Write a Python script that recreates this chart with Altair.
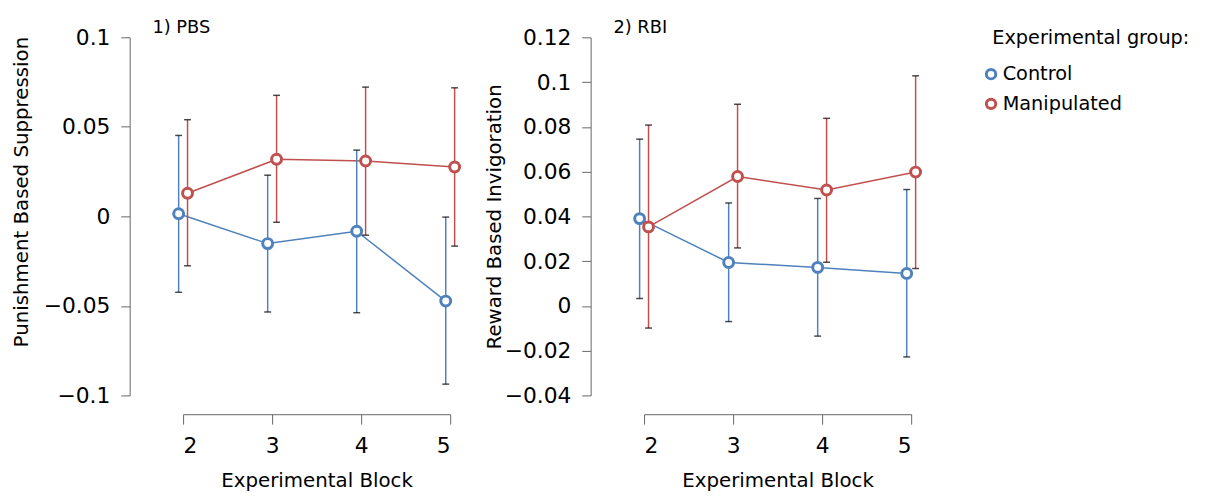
import altair as alt
import pandas as pd

blocks = [2, 3, 4, 5]
groups = ["Control", "Manipulated"]

pbs_control_mean = [0.0015, -0.0152, -0.0083, -0.0473]
pbs_control_lo = [-0.0424, -0.0534, -0.0538, -0.0937]
pbs_control_hi = [0.0452, 0.0230, 0.0370, -0.0004]
pbs_manip_mean = [0.0129, 0.0319, 0.0309, 0.0276]
pbs_manip_lo = [-0.0276, -0.0033, -0.0105, -0.0166]
pbs_manip_hi = [0.0540, 0.0676, 0.0722, 0.0718]

rbi_control_mean = [0.0390, 0.0194, 0.0172, 0.0145]
rbi_control_lo = [0.0033, -0.0070, -0.0135, -0.0228]
rbi_control_hi = [0.0745, 0.0460, 0.0480, 0.0520]
rbi_manip_mean = [0.0353, 0.0578, 0.0518, 0.0598]
rbi_manip_lo = [-0.0099, 0.0259, 0.0195, 0.0167]
rbi_manip_hi = [0.0808, 0.0901, 0.0838, 0.1028]

pbs_ticks = [-0.1, -0.05, 0, 0.05, 0.1]
rbi_ticks = [-0.04, -0.02, 0, 0.02, 0.04, 0.06, 0.08, 0.1, 0.12]

FONT = "DejaVu Sans"
BLUE = "#4f81bd"
RED = "#c0504d"

LEGEND = alt.Legend(
    title="Experimental group:", orient="right", offset=74, padding=-8,
    titleFontSize=19.5, labelFontSize=19.5, titleFont=FONT, labelFont=FONT,
    titleFontWeight="normal", titlePadding=16, rowPadding=8, titleLimit=400,
    labelLimit=300, symbolType="circle", symbolSize=90, symbolStrokeWidth=3,
    symbolFillColor="white", symbolOffset=-11, labelOffset=2,
)


def frame(cm, clo, chi, mm, mlo, mhi):
    rows = []
    for g, m, lo, hi in [("Control", cm, clo, chi), ("Manipulated", mm, mlo, mhi)]:
        for b, a, l, h in zip(blocks, m, lo, hi):
            rows.append({"block": b, "group": g, "mean": a, "lo": l, "hi": h})
    return pd.DataFrame(rows)


def panel(df, title, ytitle, ydomain, yticks, titleY, titlePad):
    base = alt.Chart(df).transform_calculate(
        xd="datum.block + (datum.group == 'Control' ? -0.05 : 0.05)"
    )
    xenc = alt.X(
        "xd:Q",
        scale=alt.Scale(domain=[2, 5], range=[54, 324], nice=False, zero=False),
        axis=alt.Axis(
            title="Experimental Block", values=blocks, format="d", offset=19,
            tickSize=10, labelPadding=12, titlePadding=14, grid=False,
        ),
    )
    yenc = alt.Y(
        "mean:Q",
        scale=alt.Scale(domain=ydomain, nice=False, zero=False),
        axis=alt.Axis(
            title=ytitle, values=yticks, format=".3~g", tickSize=9,
            labelPadding=11, titlePadding=titlePad, grid=False,
            **({"titleY": titleY} if titleY is not None else {}),
        ),
    )
    color = alt.Color(
        "group:N",
        scale=alt.Scale(domain=groups, range=[BLUE, RED]),
        legend=LEGEND,
    )
    line = base.mark_line(strokeWidth=1.5).encode(x=xenc, y=yenc, color=color)
    bars = base.mark_rule(strokeWidth=1.5).encode(
        x="xd:Q", y="lo:Q", y2="hi:Q", color=color
    )
    cap_hi = base.mark_tick(orient="horizontal", size=7, thickness=1.5, color="black").encode(
        x="xd:Q", y="hi:Q"
    )
    cap_lo = base.mark_tick(orient="horizontal", size=7, thickness=1.5, color="black").encode(
        x="xd:Q", y="lo:Q"
    )
    points = base.mark_point(
        filled=False, fill="white", fillOpacity=1, size=100, strokeWidth=3, opacity=1
    ).encode(x="xd:Q", y="mean:Q", color=color)
    return alt.layer(line, bars, cap_hi, cap_lo, points).properties(
        width=340,
        height=362,
        title=alt.TitleParams(
            title, anchor="start", frame="group", dx=23, fontSize=18,
            font=FONT, fontWeight="normal", offset=-11,
        ),
    )


pbs_df = frame(pbs_control_mean, pbs_control_lo, pbs_control_hi,
               pbs_manip_mean, pbs_manip_lo, pbs_manip_hi)
rbi_df = frame(rbi_control_mean, rbi_control_lo, rbi_control_hi,
               rbi_manip_mean, rbi_manip_lo, rbi_manip_hi)

left = panel(pbs_df, "1) PBS", "Punishment Based Suppression", [-0.1, 0.1],
             pbs_ticks, 156, 12)
right = panel(rbi_df, "2) RBI", "Reward Based Invigoration", [-0.04, 0.12],
              rbi_ticks, None, 0)

chart = alt.hconcat(left, right, spacing=18).properties(
    padding={"left": 3, "top": 9, "right": 20, "bottom": 0}
).configure_view(stroke=None).configure_axis(
    labelFont=FONT, titleFont=FONT, labelFontSize=22, titleFontSize=20,
    titleFontWeight="normal", labelColor="black", titleColor="black",
    domainColor="#666666", tickColor="#666666", domainWidth=1, tickWidth=1,
)

chart.save("out.html", embed_options={"renderer": "svg", "actions": False})
